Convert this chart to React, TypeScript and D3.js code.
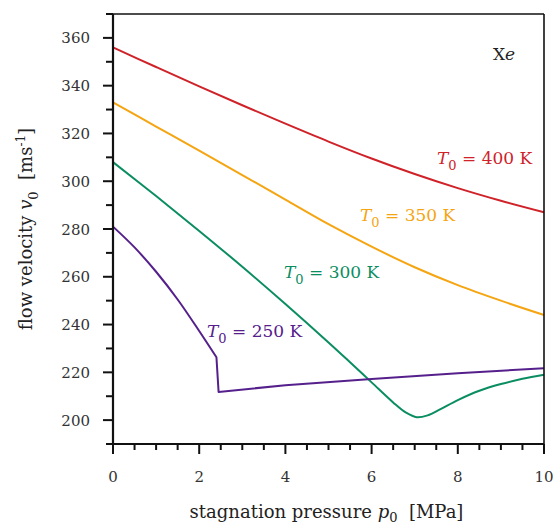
import React from 'react';
import * as d3 from 'd3';

// Xe flow velocity vs stagnation pressure
const pressure400 = [0, 1, 2, 3, 4, 5, 6, 7, 8, 9, 10];
const velocity400 = [356, 347.8, 339.7, 331.8, 324.1, 316.6, 309.5, 303, 297.1, 291.8, 287];

const pressure350 = [0, 1, 2, 3, 4, 5, 6, 7, 8, 9, 10];
const velocity350 = [333, 322.9, 312.8, 302.6, 292.3, 282, 272.6, 264, 256.5, 250, 244];

const pressure300 = [0, 1, 2, 3, 4, 5, 5.5, 6, 6.5, 6.8, 7.05, 7.3, 7.6, 8, 8.5, 9, 9.5, 10];
const velocity300 = [308, 293.8, 279.2, 264.2, 248.6, 232.5, 224.2, 215.8, 207.4, 203.1, 201.2, 202, 204.6, 208.4, 212.3, 215.1, 217.3, 219];

// 250 K has a kink (condensation onset) at about 2.4 MPa
const pressure250 = [0, 0.5, 1, 1.5, 2, 2.4, 2.45, 4, 6, 8, 10];
const velocity250 = [281, 272.3, 262.1, 250.5, 237.3, 226.3, 211.8, 214.6, 217.2, 219.6, 221.7];
const kink250 = 5;

const xMajorTicks = [0, 2, 4, 6, 8, 10];
const yMajorTicks = [200, 220, 240, 260, 280, 300, 320, 340, 360];

const series = [
  { temp: '400', xs: pressure400, ys: velocity400, color: '#cf2229', lx: 437, ly: 164 },
  { temp: '350', xs: pressure350, ys: velocity350, color: '#f5a511', lx: 360, ly: 221 },
  { temp: '300', xs: pressure300, ys: velocity300, color: '#0b8d62', lx: 284, ly: 278 },
  { temp: '250', xs: pressure250, ys: velocity250, color: '#55208c', lx: 207, ly: 337 },
];

const W = 553;
const H = 527;
const left = 113, right = 544, top = 14, bottom = 444;
const font = '"DejaVu Serif", serif';

export default function App() {
  const x = d3.scaleLinear().domain([0, 10]).range([left, right]);
  const y = d3.scaleLinear().domain([190, 370]).range([bottom, top]);

  const xMinor = d3.range(0, 10.01, 0.5).filter(v => !xMajorTicks.includes(v));
  const yMinor = d3.range(190, 370.1, 10).filter(v => !yMajorTicks.includes(v));

  const smooth = d3.line<[number, number]>()
    .x(d => x(d[0]))
    .y(d => y(d[1]))
    .curve(d3.curveCatmullRom.alpha(0.5));
  const straight = d3.line<[number, number]>()
    .x(d => x(d[0]))
    .y(d => y(d[1]));

  const pts = (xs: number[], ys: number[]) => xs.map((v, i) => [v, ys[i]] as [number, number]);

  const paths = series.map(s => {
    const p = pts(s.xs, s.ys);
    if (s.temp === '250') {
      return (smooth(p.slice(0, kink250 + 1)) || '') + (straight(p.slice(kink250)) || '').replace(/^M/, 'L');
    }
    return smooth(p) || '';
  });

  return (
    <svg width={W} height={H} style={{ position: 'absolute', left: 0, top: 0, background: '#fff' }} fontFamily={font}>
      {series.map((s, i) => (
        <path key={s.temp} d={paths[i]} fill="none" stroke={s.color} strokeWidth={2} strokeLinejoin="round" />
      ))}

      {/* frame */}
      <line x1={left} x2={right} y1={top} y2={top} stroke="#111" strokeWidth={1.6} />
      <line x1={right} x2={right} y1={top} y2={bottom} stroke="#111" strokeWidth={1.6} />
      <line x1={left} x2={left} y1={top} y2={bottom} stroke="#111" strokeWidth={2.2} />
      <line x1={left} x2={right} y1={bottom} y2={bottom} stroke="#111" strokeWidth={2.2} />

      {/* x ticks */}
      {xMajorTicks.map(t => (
        <g key={'xM' + t}>
          <line x1={x(t)} x2={x(t)} y1={bottom} y2={bottom + 10} stroke="#111" strokeWidth={2} />
          <text x={x(t)} y={482} textAnchor="middle" fontSize={15} fill="#333">{t}</text>
        </g>
      ))}
      {xMinor.map(t => (
        <line key={'xm' + t} x1={x(t)} x2={x(t)} y1={bottom} y2={bottom + 6} stroke="#111" strokeWidth={2} />
      ))}

      {/* y ticks */}
      {yMajorTicks.map(t => (
        <g key={'yM' + t}>
          <line x1={left - 10} x2={left} y1={y(t)} y2={y(t)} stroke="#111" strokeWidth={2} />
          <text x={90} y={y(t) + 5.5} textAnchor="end" fontSize={15} fill="#333">{t}</text>
        </g>
      ))}
      {yMinor.map(t => (
        <line key={'ym' + t} x1={left - 7} x2={left} y1={y(t)} y2={y(t)} stroke="#111" strokeWidth={2} />
      ))}

      {/* series labels */}
      {series.map(s => (
        <text key={'l' + s.temp} x={s.lx} y={s.ly} fontSize={17} fill={s.color}>
          <tspan fontStyle="italic">T</tspan>
          <tspan dy={6} fontSize={13}>0</tspan>
          <tspan dy={-6}>{' = ' + s.temp + ' K'}</tspan>
        </text>
      ))}

      <text x={504} y={60} textAnchor="middle" fontSize={17} fill="#222">
        X<tspan fontStyle="italic">e</tspan>
      </text>

      {/* axis titles */}
      <text x={(left + right) / 2 - 2} y={518} textAnchor="middle" fontSize={18} fill="#222">
        stagnation pressure <tspan fontStyle="italic">p</tspan>
        <tspan dy={4} fontSize={13}>0</tspan>
        <tspan dy={-4}>{'\u00a0\u00a0[MPa]'}</tspan>
      </text>
      <text transform={`translate(32, ${(top + bottom) / 2}) rotate(-90)`} textAnchor="middle" fontSize={18} fill="#222">
        flow velocity <tspan fontStyle="italic">v</tspan>
        <tspan dy={6} fontSize={13}>0</tspan>
        <tspan dy={-6}>{'\u00a0\u00a0[ms'}</tspan>
        <tspan dy={-7} fontSize={12}>-1</tspan>
        <tspan dy={7}>]</tspan>
      </text>
    </svg>
  );
}
